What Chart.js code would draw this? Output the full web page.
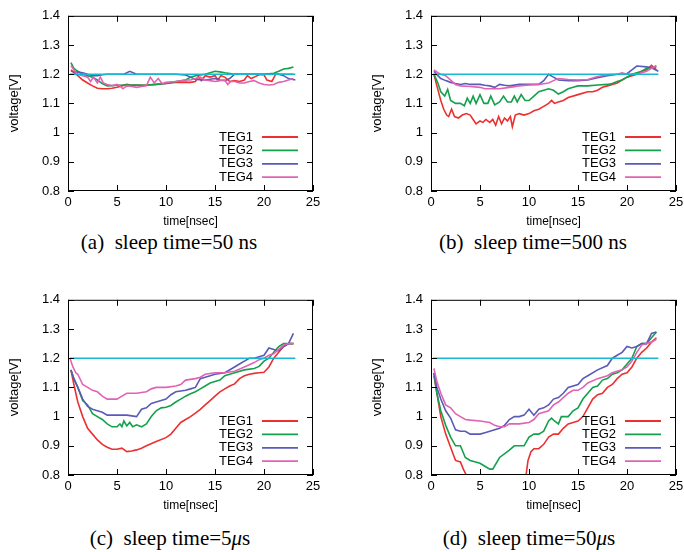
<!DOCTYPE html>
<html>
<head>
<meta charset="utf-8">
<script src="https://cdn.jsdelivr.net/npm/chart.js@4"></script>
<style>
  body { margin: 0; background: #fff; width: 684px; height: 552px; overflow: hidden; position: relative; }
  .panel { position: absolute; width: 330px; height: 230px; }
  .cap { position: absolute; font-family: "Liberation Serif", serif; font-size: 21px; line-height: 24px;
         color: #000; white-space: nowrap; transform: translateX(-50%); }
</style>
</head>
<body>
<div class="panel" style="left:0;top:0"><canvas id="chA" width="330" height="230"></canvas></div>
<div class="panel" style="left:363px;top:0"><canvas id="chB" width="330" height="230"></canvas></div>
<div class="panel" style="left:0;top:284px"><canvas id="chC" width="330" height="230"></canvas></div>
<div class="panel" style="left:363px;top:284px"><canvas id="chD" width="330" height="230"></canvas></div>
<div class="cap" style="left:169px;top:230px">(a)&nbsp; sleep time=50 ns</div>
<div class="cap" style="left:533px;top:230px">(b)&nbsp; sleep time=500 ns</div>
<div class="cap" style="left:170px;top:526px">(c)&nbsp; sleep time=5<i>μ</i>s</div>
<div class="cap" style="left:529px;top:526px">(d)&nbsp; sleep time=50<i>μ</i>s</div>
<script>
// data: [time nsec, voltage V]
// (a) sleep 50 ns
const aTEG1 = [[0.3,1.215],[0.6,1.205],[1,1.195],[1.5,1.18],[2,1.17],[2.5,1.16],[3,1.152],[3.5,1.15],[4,1.15],[4.5,1.152],[5,1.155],[5.5,1.16],[6,1.165],[6.5,1.162],[7,1.162],[8,1.163],[9,1.165],[10,1.168],[11,1.172],[12,1.173],[12.5,1.172],[13,1.175],[13.3,1.192],[13.6,1.178],[14,1.195],[14.5,1.19],[15,1.195],[15.3,1.18],[15.6,1.195],[16,1.19],[16.5,1.175],[17,1.178],[17.5,1.175],[18,1.18],[18.3,1.195],[18.7,1.185],[19,1.19],[19.5,1.198],[20,1.198],[20.3,1.18],[20.8,1.175],[21.2,1.2],[22,1.2],[23,1.2]];
const aTEG2 = [[0.3,1.24],[0.6,1.22],[1,1.21],[1.5,1.2],[2,1.195],[2.5,1.19],[3,1.18],[3.5,1.168],[4,1.16],[5,1.162],[6,1.163],[7,1.163],[8,1.162],[9,1.165],[10,1.168],[10.5,1.172],[11,1.175],[12,1.18],[12.5,1.19],[13,1.195],[14,1.2],[14.5,1.205],[15,1.21],[15.5,1.208],[16,1.205],[17,1.2],[18,1.2],[19,1.2],[20,1.2],[21,1.203],[21.5,1.21],[22,1.218],[22.5,1.22],[23,1.225]];
const aTEG3 = [[0.3,1.21],[1,1.207],[1.5,1.205],[2,1.2],[2.5,1.195],[3,1.195],[3.5,1.198],[4,1.2],[5,1.2],[5.7,1.2],[6.3,1.21],[7,1.2],[8,1.2],[9,1.2],[10,1.2],[11,1.2],[12,1.197],[12.5,1.19],[13,1.182],[14,1.18],[15,1.185],[15.5,1.18],[16,1.178],[16.5,1.185],[17,1.2],[18,1.2],[19,1.2],[20,1.2],[21,1.2],[21.5,1.2],[22,1.195],[22.5,1.185],[23.2,1.18]];
const aTEG4 = [[0.3,1.23],[0.7,1.21],[1,1.2],[1.5,1.195],[2,1.19],[2.3,1.175],[2.6,1.19],[3,1.17],[3.3,1.19],[3.6,1.17],[4,1.165],[4.5,1.16],[5,1.165],[5.3,1.16],[5.6,1.15],[6,1.16],[6.5,1.158],[7,1.155],[7.5,1.158],[8,1.16],[8.4,1.19],[8.8,1.17],[9.2,1.185],[9.6,1.168],[10,1.172],[11,1.175],[12,1.18],[12.5,1.18],[13,1.185],[13.5,1.19],[14,1.18],[14.5,1.178],[15,1.175],[15.5,1.178],[16,1.18],[16.3,1.165],[16.6,1.175],[17,1.175],[17.5,1.17],[18,1.17],[18.5,1.175],[19,1.178],[19.5,1.17],[20,1.165],[20.5,1.163],[21,1.165],[21.5,1.172],[22,1.175],[22.5,1.18],[23,1.185]];
// (b) sleep 500 ns
const bTEG1 = [[0.3,1.2],[0.6,1.16],[1,1.11],[1.3,1.08],[1.6,1.06],[1.8,1.055],[2.1,1.08],[2.4,1.055],[2.8,1.05],[3.2,1.06],[3.6,1.065],[4,1.06],[4.3,1.045],[4.6,1.03],[5,1.04],[5.3,1.035],[5.6,1.045],[6,1.035],[6.3,1.045],[6.6,1.025],[6.9,1.055],[7.2,1.03],[7.5,1.05],[7.8,1.04],[8.1,1.055],[8.3,1.02],[8.6,1.06],[9,1.065],[9.5,1.06],[10,1.065],[10.5,1.075],[11,1.08],[11.5,1.09],[12,1.1],[12.3,1.11],[12.6,1.1],[13,1.105],[13.5,1.11],[14,1.12],[15,1.13],[16,1.14],[16.5,1.14],[17,1.145],[17.5,1.155],[18,1.16],[18.5,1.165],[19,1.17],[19.5,1.18],[20,1.19],[20.5,1.195],[21,1.2],[21.5,1.21],[22,1.215],[22.5,1.23],[23,1.215]];
const bTEG2 = [[0.3,1.2],[0.7,1.17],[1,1.14],[1.4,1.125],[1.7,1.148],[2,1.11],[2.5,1.1],[3,1.1],[3.4,1.092],[3.7,1.118],[4,1.1],[4.3,1.125],[4.6,1.1],[5,1.13],[5.4,1.1],[5.8,1.1],[6.1,1.125],[6.5,1.095],[7,1.105],[7.4,1.125],[7.8,1.105],[8.2,1.105],[8.5,1.125],[8.8,1.105],[9.2,1.13],[9.6,1.11],[10,1.11],[10.5,1.125],[11,1.14],[11.5,1.145],[12,1.15],[12.5,1.145],[13,1.132],[13.5,1.14],[14,1.15],[14.5,1.155],[15,1.16],[16,1.16],[17,1.163],[18,1.165],[18.5,1.168],[19,1.175],[19.5,1.18],[20,1.19],[20.5,1.2],[21,1.205],[21.5,1.21],[22,1.22],[22.5,1.222],[23,1.225]];
const bTEG3 = [[0.3,1.21],[0.7,1.195],[1,1.185],[1.5,1.178],[2,1.172],[2.5,1.168],[3,1.165],[3.5,1.168],[4,1.165],[5,1.165],[5.5,1.162],[6,1.16],[6.5,1.155],[7,1.165],[7.5,1.162],[8,1.16],[9,1.165],[10,1.165],[11,1.165],[11.5,1.178],[12,1.2],[12.5,1.19],[13,1.18],[14,1.178],[15,1.178],[16,1.18],[17,1.188],[18,1.195],[19,1.2],[19.5,1.2],[20,1.202],[20.5,1.215],[21,1.228],[22,1.225],[22.5,1.222],[23.2,1.21]];
const bTEG4 = [[0.3,1.215],[0.7,1.205],[1,1.2],[1.5,1.195],[2,1.18],[2.5,1.165],[3,1.16],[4,1.158],[5,1.155],[5.5,1.15],[6,1.15],[7,1.15],[8,1.155],[9,1.16],[10,1.163],[11,1.165],[12,1.17],[12.5,1.178],[13,1.185],[14,1.182],[15,1.18],[16,1.182],[17,1.192],[18,1.198],[19,1.2],[19.5,1.205],[20,1.2],[21,1.2],[22,1.21],[22.5,1.22],[23,1.23]];
// (c) sleep 5 us
const cTEG1 = [[0.3,1.16],[0.6,1.11],[1,1.05],[1.5,1.0],[2,0.96],[2.5,0.94],[3,0.92],[3.5,0.905],[4,0.895],[4.5,0.888],[5,0.888],[5.5,0.892],[6,0.88],[6.5,0.882],[7,0.886],[7.5,0.892],[8,0.9],[9,0.915],[10,0.928],[10.5,0.94],[11,0.96],[11.5,0.98],[12,0.99],[12.5,1.0],[13,1.012],[13.5,1.025],[14,1.04],[14.5,1.055],[15,1.07],[15.5,1.085],[16,1.095],[16.5,1.105],[17,1.112],[17.5,1.13],[18,1.14],[18.5,1.145],[19,1.148],[19.5,1.15],[20,1.152],[20.5,1.17],[21,1.2],[21.5,1.22],[22,1.24],[22.5,1.25],[23,1.25]];
const cTEG2 = [[0.3,1.16],[0.6,1.13],[1,1.1],[1.5,1.055],[2,1.04],[2.5,1.01],[3,1.0],[3.5,0.99],[4,0.975],[4.5,0.965],[5,0.965],[5.3,0.975],[5.5,0.965],[5.7,0.985],[6,0.968],[6.3,0.98],[6.6,0.965],[7,0.972],[7.5,0.965],[8,0.975],[8.5,1.0],[9,1.02],[9.5,1.03],[10,1.032],[10.5,1.038],[11,1.05],[11.5,1.06],[12,1.07],[12.5,1.078],[13,1.085],[13.5,1.095],[14,1.105],[14.5,1.115],[15,1.12],[15.5,1.125],[16,1.14],[17,1.15],[18,1.16],[19,1.165],[19.5,1.172],[20,1.19],[20.5,1.2],[21,1.22],[21.5,1.24],[22,1.25],[23,1.25]];
const cTEG3 = [[0.3,1.16],[0.6,1.13],[1,1.1],[1.5,1.06],[2,1.035],[2.5,1.025],[3,1.02],[3.5,1.015],[4,1.005],[5,1.005],[6,1.005],[7,1.0],[7.5,1.025],[8,1.03],[8.5,1.045],[9,1.05],[10,1.06],[10.5,1.075],[11,1.085],[12,1.09],[12.5,1.095],[13,1.1],[13.5,1.13],[14,1.135],[15,1.145],[16,1.15],[17,1.17],[17.5,1.18],[18,1.19],[18.5,1.2],[19,1.2],[20,1.21],[20.5,1.235],[21,1.23],[21.5,1.225],[22,1.24],[22.5,1.25],[23,1.285]];
const cTEG4 = [[0.2,1.2],[0.5,1.17],[0.8,1.15],[1,1.145],[1.5,1.11],[2,1.1],[2.5,1.09],[3,1.085],[3.5,1.07],[4,1.06],[5,1.06],[5.5,1.07],[6,1.08],[7,1.08],[8,1.085],[8.5,1.095],[9,1.1],[10,1.1],[11,1.105],[11.5,1.11],[12,1.125],[13,1.13],[13.5,1.135],[14,1.145],[15,1.15],[16,1.15],[17,1.155],[18,1.17],[19,1.185],[19.5,1.195],[20,1.2],[20.5,1.21],[21,1.215],[21.5,1.23],[22,1.245],[22.5,1.25],[23,1.25]];
// (d) sleep 50 us
const dTEG1 = [[0.3,1.14],[0.6,1.08],[1,1.0],[1.5,0.94],[2,0.895],[2.5,0.85],[3,0.845],[3.3,0.82],[3.6,0.8],[5,0.8],[7,0.8],[9,0.8],[9.7,0.8],[9.9,0.85],[10.2,0.88],[10.5,0.89],[11,0.89],[11.5,0.905],[12,0.93],[12.5,0.94],[13,0.94],[13.5,0.96],[14,0.975],[14.5,0.98],[15,0.985],[15.5,1.0],[16,1.03],[16.5,1.06],[17,1.075],[17.5,1.08],[18,1.1],[18.5,1.11],[19,1.13],[19.5,1.145],[20,1.15],[20.5,1.17],[21,1.2],[21.5,1.22],[22,1.235],[22.5,1.255],[23,1.27]];
const dTEG2 = [[0.3,1.15],[0.6,1.08],[1,1.02],[1.5,0.97],[2,0.93],[2.5,0.9],[3,0.9],[3.5,0.86],[4,0.85],[5,0.84],[5.5,0.83],[6,0.82],[6.3,0.82],[7,0.86],[8,0.885],[8.5,0.9],[9,0.9],[9.5,0.9],[10,0.93],[10.5,0.94],[11,0.94],[11.5,0.95],[12,0.985],[12.3,0.995],[12.6,0.985],[13,0.975],[13.3,1.0],[14,1.0],[14.5,1.02],[15,1.03],[15.5,1.06],[16,1.08],[16.5,1.1],[17,1.105],[17.5,1.125],[18,1.13],[18.5,1.145],[19,1.15],[19.5,1.16],[20,1.18],[20.5,1.2],[21,1.24],[21.5,1.25],[22,1.25],[22.5,1.27],[23,1.29]];
const dTEG3 = [[0.3,1.15],[0.6,1.1],[1,1.06],[1.5,1.02],[2,0.995],[2.5,0.955],[3,0.95],[3.5,0.95],[4,0.94],[5,0.94],[5.5,0.945],[6,0.95],[7,0.96],[7.5,0.97],[8,0.99],[8.5,1.0],[9,1.0],[9.5,1.005],[10,1.025],[10.5,1.005],[11,1.025],[11.5,1.03],[12,1.04],[12.5,1.06],[13,1.065],[13.5,1.08],[14,1.1],[15,1.11],[15.5,1.13],[16,1.14],[17,1.16],[18,1.175],[18.5,1.2],[19,1.21],[19.5,1.22],[20,1.24],[20.5,1.235],[21,1.24],[21.5,1.25],[22,1.25],[22.5,1.285],[23,1.29]];
const dTEG4 = [[0.3,1.165],[0.6,1.12],[1,1.08],[1.5,1.04],[2,1.03],[2.5,1.01],[3,1.0],[3.5,0.99],[4,0.988],[5,0.985],[6,0.98],[6.5,0.97],[7,0.965],[7.5,0.965],[8,0.975],[9,0.975],[10,0.98],[10.5,0.99],[11,1.01],[12,1.02],[12.5,1.04],[13,1.05],[14,1.08],[14.5,1.09],[15,1.09],[15.5,1.1],[16,1.115],[17,1.13],[18,1.14],[18.5,1.15],[19,1.155],[19.5,1.16],[20,1.17],[20.5,1.19],[21,1.22],[21.5,1.245],[22,1.25],[22.5,1.255],[23,1.265]];
// 1.2 V reference line
const refLine = [[0.2,1.2],[23.2,1.2]];

const legendNames = ['TEG1', 'TEG2', 'TEG3', 'TEG4'];
const lineColors = ['#ec3030', '#14a04c', '#5a5ab8', '#e063b4'];
const refColor = '#18b8d2';
const xTicks = [0, 5, 10, 15, 20, 25];
const yTicks = [0.8, 0.9, 1, 1.1, 1.2, 1.3, 1.4];

const sansFont = '"Liberation Sans", Arial, sans-serif';

// gnuplot look: box round the plot, ticks pointing inwards on all four sides
const framePlugin = {
  id: 'frame',
  afterDatasetsDraw(chart) {
    const ctx = chart.ctx;
    const a = chart.chartArea;
    const xs = chart.scales.x, ys = chart.scales.y;
    const tl = 6;
    ctx.save();
    ctx.strokeStyle = '#000';
    ctx.lineWidth = 1;
    ctx.strokeRect(a.left + 0.5, a.top + 0.5, a.right - a.left - 1, a.bottom - a.top - 1);
    ctx.beginPath();
    xTicks.forEach(v => {
      const px = Math.round(xs.getPixelForValue(v)) + 0.5;
      ctx.moveTo(px, a.bottom); ctx.lineTo(px, a.bottom - tl);
      ctx.moveTo(px, a.top); ctx.lineTo(px, a.top + tl);
    });
    yTicks.forEach(v => {
      const py = Math.round(ys.getPixelForValue(v)) + 0.5;
      ctx.moveTo(a.left, py); ctx.lineTo(a.left + tl, py);
      ctx.moveTo(a.right, py); ctx.lineTo(a.right - tl, py);
    });
    ctx.stroke();
    ctx.restore();
  }
};

// legend inside, bottom right, text first then the line sample
const keyPlugin = {
  id: 'key',
  afterDatasetsDraw(chart) {
    const ctx = chart.ctx;
    const a = chart.chartArea;
    ctx.save();
    ctx.font = '13px ' + sansFont;
    ctx.textAlign = 'right';
    ctx.textBaseline = 'middle';
    legendNames.forEach((name, i) => {
      const y = a.bottom - 54 + i * 13.4;
      ctx.fillStyle = '#000';
      ctx.fillText(name, a.right - 60, y);
      ctx.strokeStyle = lineColors[i];
      ctx.lineWidth = 1.8;
      ctx.beginPath();
      ctx.moveTo(a.right - 51, y);
      ctx.lineTo(a.right - 15, y);
      ctx.stroke();
    });
    ctx.restore();
  }
};

function makeChart(id, series) {
  const sets = series.map((s, i) => ({
    label: legendNames[i],
    data: s,
    borderColor: lineColors[i],
    borderWidth: 1.6,
    pointRadius: 0,
    tension: 0,
    order: 4 - i
  }));
  sets.push({
    label: 'ref',
    data: refLine,
    borderColor: refColor,
    borderWidth: 1.6,
    pointRadius: 0,
    order: 0
  });
  new Chart(document.getElementById(id), {
    type: 'line',
    data: { datasets: sets },
    options: {
      responsive: false,
      animation: false,
      events: [],
      layout: { padding: { top: 11, right: 17, left: 0, bottom: 0 } },
      plugins: { legend: { display: false }, tooltip: { enabled: false } },
      scales: {
        x: {
          type: 'linear', min: 0, max: 25,
          afterBuildTicks(s) { s.ticks = xTicks.map(v => ({ value: v })); },
          afterFit(s) { s.height = 39; },
          grid: { display: false, drawTicks: false },
          border: { display: false },
          ticks: { color: '#000', padding: 4, maxRotation: 0, font: { family: sansFont, size: 13 } },
          title: { display: true, text: 'time[nsec]', color: '#000', padding: { top: 0, bottom: 1 },
                   font: { family: sansFont, size: 12 } }
        },
        y: {
          type: 'linear', min: 0.8, max: 1.4,
          afterBuildTicks(s) { s.ticks = yTicks.map(v => ({ value: v })); },
          afterFit(s) { s.width = 68; },
          grid: { display: false, drawTicks: false },
          border: { display: false },
          ticks: { color: '#000', padding: 8, font: { family: sansFont, size: 13 },
                   callback: v => String(Math.round(v * 10) / 10) },
          title: { display: true, text: 'voltage[V]', color: '#000', padding: { top: 7, bottom: 0 },
                   font: { family: sansFont, size: 13 } }
        }
      }
    },
    plugins: [framePlugin, keyPlugin]
  });
}

makeChart('chA', [aTEG1, aTEG2, aTEG3, aTEG4]);
makeChart('chB', [bTEG1, bTEG2, bTEG3, bTEG4]);
makeChart('chC', [cTEG1, cTEG2, cTEG3, cTEG4]);
makeChart('chD', [dTEG1, dTEG2, dTEG3, dTEG4]);
</script>
</body>
</html>
